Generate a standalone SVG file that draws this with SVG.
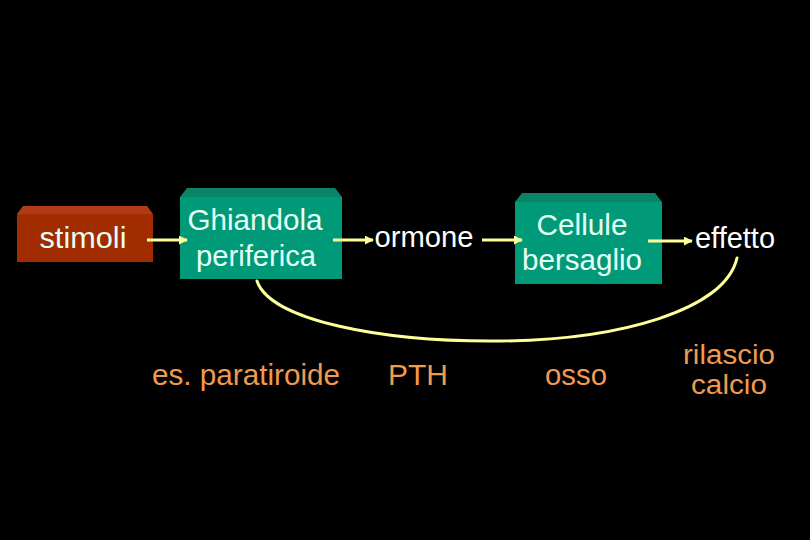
<svg xmlns="http://www.w3.org/2000/svg" width="810" height="540" viewBox="0 0 810 540">
<defs>
<style>
.w{font-family:"Liberation Sans",Arial,sans-serif;font-size:29px;fill:#ffffff;text-anchor:middle}
.b{fill:#e6fff6}
.o{font-family:"Liberation Sans Narrow","Liberation Sans",Arial,sans-serif;font-size:29px;fill:#f09a50;text-anchor:middle}
.s{font-size:27px}
.ln{stroke:#ffff99;stroke-width:3;fill:none}
.gf{fill:#009a78}
.gt{fill:#0a8466}
</style>
<marker id="ah" viewBox="0 0 10 10" refX="9" refY="5" markerWidth="3" markerHeight="3" orient="auto" markerUnits="strokeWidth">
<path d="M0,0 L10,5 L0,10 z" fill="#ffff99"/>
</marker>
</defs>
<rect width="810" height="540" fill="#000000"/>
<g id="stimoli">
<polygon points="17,214 23,206 147,206 153,214" fill="#b23a14"/>
<rect x="17" y="214" width="136" height="48" fill="#a02c00"/>
<text class="w b" x="83" y="248" textLength="87" lengthAdjust="spacingAndGlyphs">stimoli</text>
</g>
<g id="ghiandola">
<polygon class="gt" points="180,197 187,188 335,188 342,197"/>
<rect class="gf" x="180" y="197" width="162" height="82"/>
<text class="w b" x="255" y="230" textLength="135" lengthAdjust="spacingAndGlyphs">Ghiandola</text>
<text class="w b" x="256" y="266" textLength="120" lengthAdjust="spacingAndGlyphs">periferica</text>
</g>
<g id="ormone">
<text class="w" x="424" y="247" textLength="99" lengthAdjust="spacingAndGlyphs">ormone</text>
</g>
<g id="cellule">
<polygon class="gt" points="515,202 522,193 655,193 662,202"/>
<rect class="gf" x="515" y="202" width="147" height="82"/>
<text class="w b" x="582" y="235" textLength="91" lengthAdjust="spacingAndGlyphs">Cellule</text>
<text class="w b" x="582" y="270" textLength="120" lengthAdjust="spacingAndGlyphs">bersaglio</text>
</g>
<g id="effetto">
<text class="w" x="735" y="248" textLength="80" lengthAdjust="spacingAndGlyphs">effetto</text>
</g>
<g id="es-paratiroide"><text class="o" x="246" y="385" textLength="188" lengthAdjust="spacingAndGlyphs">es. paratiroide</text></g>
<g id="pth"><text class="o" x="418" y="385" textLength="60" lengthAdjust="spacingAndGlyphs">PTH</text></g>
<g id="osso"><text class="o" x="576" y="385" textLength="62" lengthAdjust="spacingAndGlyphs">osso</text></g>
<g id="rilascio-calcio">
<text class="o s" x="729" y="364" textLength="92" lengthAdjust="spacingAndGlyphs">rilascio</text>
<text class="o s" x="729" y="394" textLength="76" lengthAdjust="spacingAndGlyphs">calcio</text>
</g>
<g id="connectors">
<line class="ln" x1="147" y1="240" x2="187" y2="240" marker-end="url(#ah)"/>
<line class="ln" x1="333" y1="240" x2="373" y2="240" marker-end="url(#ah)"/>
<line class="ln" x1="482" y1="240" x2="522" y2="240" marker-end="url(#ah)"/>
<line class="ln" x1="648" y1="241" x2="692" y2="241" marker-end="url(#ah)"/>
<path class="ln" stroke-linecap="round" d="M737,258 C725,310 620,340 500,341 C380,342 270,320 257,281"/>
</g>
</svg>
